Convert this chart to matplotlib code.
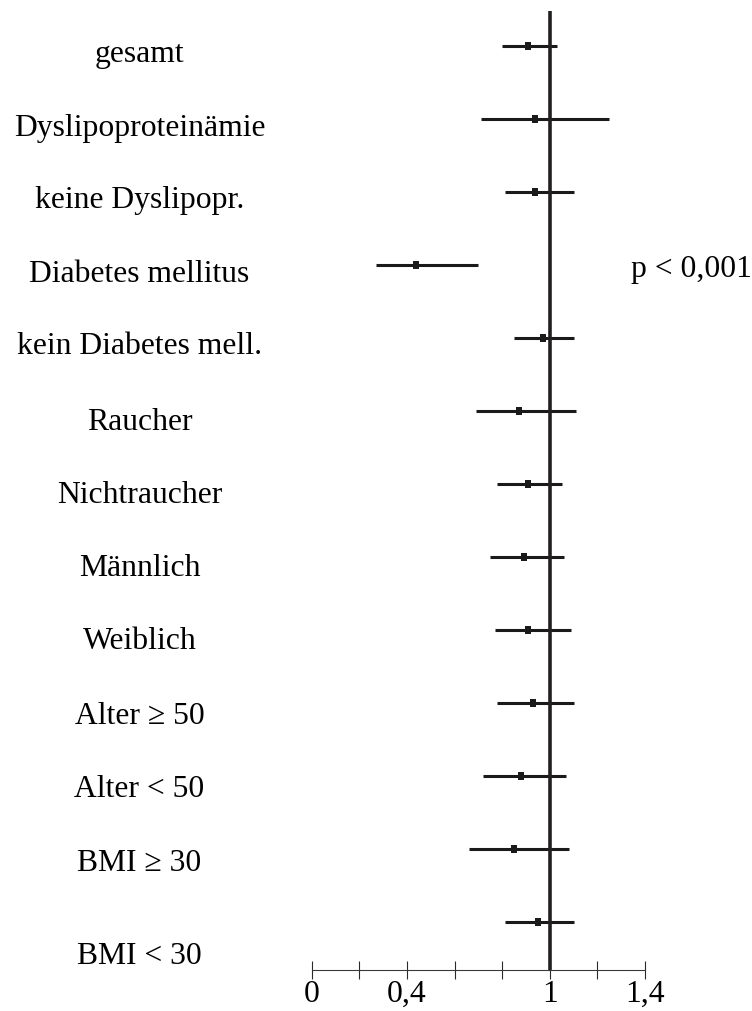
import matplotlib
matplotlib.use("Agg")
import matplotlib.pyplot as plt
from matplotlib.transforms import offset_copy

# Subgroups, odds ratios and 95% confidence limits
groups = [
    "gesamt",
    "Dyslipoproteinämie",
    "keine Dyslipopr.",
    "Diabetes mellitus",
    "kein Diabetes mell.",
    "Raucher",
    "Nichtraucher",
    "Männlich",
    "Weiblich",
    "Alter ≥ 50",
    "Alter < 50",
    "BMI ≥ 30",
    "BMI < 30",
]
odds_ratio = [0.91, 0.94, 0.94, 0.44, 0.97, 0.87, 0.91, 0.89, 0.91, 0.93, 0.88, 0.85, 0.95]
ci_lower = [0.80, 0.71, 0.81, 0.27, 0.85, 0.69, 0.78, 0.75, 0.77, 0.78, 0.72, 0.66, 0.81]
ci_upper = [1.03, 1.25, 1.10, 0.70, 1.10, 1.11, 1.05, 1.06, 1.09, 1.10, 1.07, 1.08, 1.10]

x_ticks = [0, 0.2, 0.4, 0.6, 0.8, 1.0, 1.2, 1.4]
x_tick_labels = ["0", "", "0,4", "", "", "1", "", "1,4"]

p_note = "p < 0,001"
p_note_row = 3

# Vertical shift (pixels) of each group label below its bar
label_drop_px = [15, 16, 15, 16, 15, 18, 18, 18, 18, 20, 20, 21, 41]

INK = "#1a1a1a"
REF = "#231f20"
FONT = "Liberation Serif"
FS = 22.8

plt.rcParams["font.family"] = [FONT, "DejaVu Serif"]

fig = plt.figure(figsize=(7.52, 10.12), dpi=100)
ax = fig.add_axes([311.7 / 752, 41 / 1012, 333.3 / 752, 959 / 1012])

rows = list(range(len(groups)))

ax.hlines(rows, ci_lower, ci_upper, colors=INK, linewidth=2.2, zorder=2)
ax.plot(odds_ratio, rows, linestyle="none", color=INK,
        marker=[(-0.33, -0.5), (0.33, -0.5), (0.33, 0.5), (-0.33, 0.5), (-0.33, -0.5)],
        markersize=6.0, markeredgewidth=0, zorder=3)
ax.axvline(1.0, color=REF, linewidth=2.6, zorder=4)

ax.set_xlim(0, 1.4)
ax.set_ylim(12.658, -0.479)

for side in ("left", "right", "top"):
    ax.spines[side].set_visible(False)
ax.spines["bottom"].set_linewidth(0.8)
ax.spines["bottom"].set_color("#3a3a3a")
ax.set_yticks([])
ax.set_xticks(x_ticks)
ax.set_xticklabels(x_tick_labels)
ax.tick_params(axis="x", direction="inout", length=12.5, width=0.8,
               color="#2a2a2a", labelsize=FS, pad=0, labelcolor="black")

for r, name, drop in zip(rows, groups, label_drop_px):
    tr = offset_copy(ax.transData, fig=fig, y=-drop * 0.72, units="points")
    ax.text(-0.7235, r, name, transform=tr, ha="center", va="baseline",
            fontsize=FS, color="black", clip_on=False)

tr_p = offset_copy(ax.transData, fig=fig, y=-10.7 * 0.72, units="points")
ax.text(1.343, p_note_row, p_note, transform=tr_p, ha="left", va="baseline",
        fontsize=FS, color="black", clip_on=False)

fig.savefig("out.png", dpi=100)
